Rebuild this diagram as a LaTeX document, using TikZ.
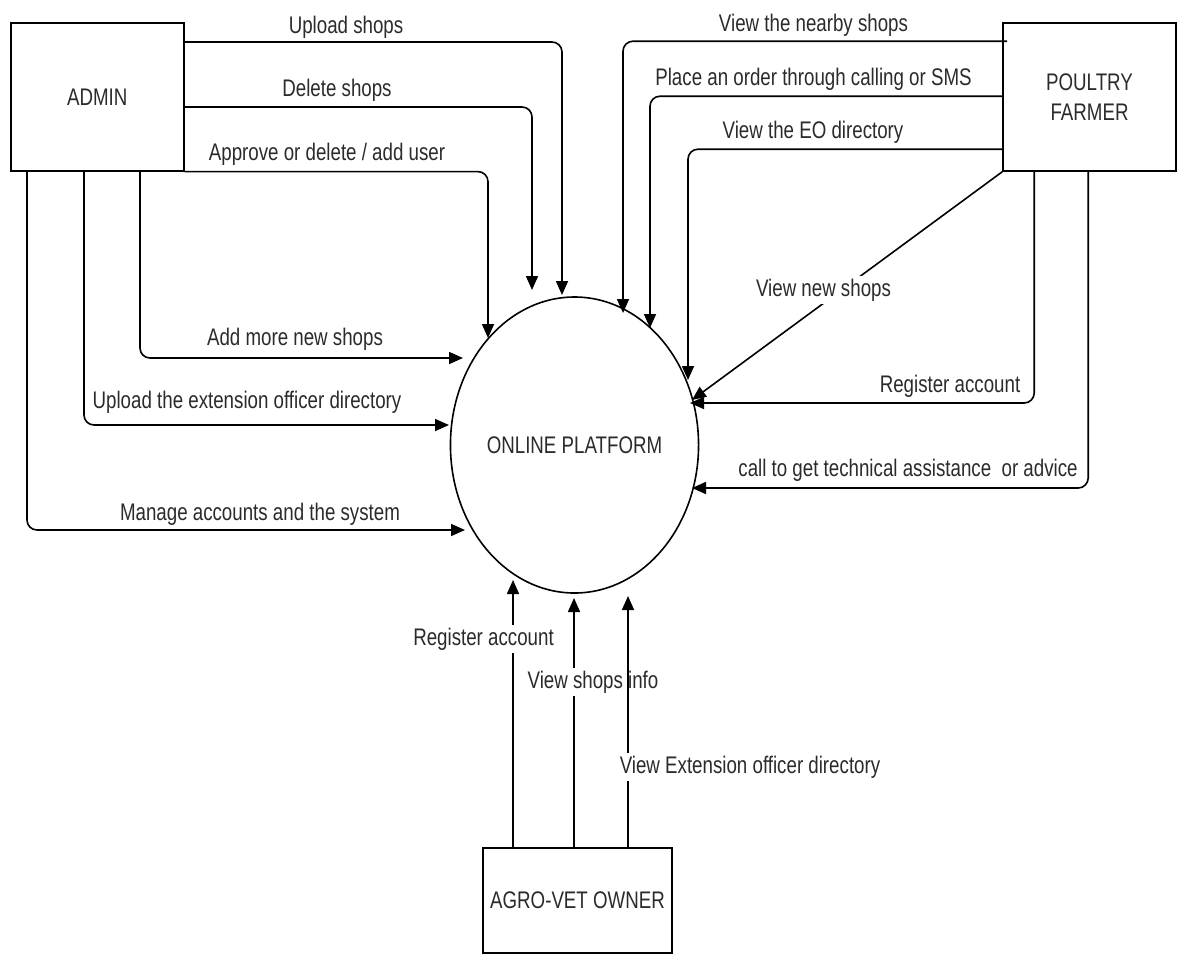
\documentclass[tikz,border=0pt]{standalone}
\usepackage{fontspec}
\setmainfont{Liberation Sans}[FakeStretch=0.78]
\usetikzlibrary{arrows.meta,shapes.geometric}
\definecolor{txt}{HTML}{2B2B2B}
\begin{document}
\begin{tikzpicture}[x=1pt,y=-1pt,
  every node/.style={font=\fontsize{24}{30}\selectfont, text=txt},
  box/.style={draw=black, line width=1.6pt, inner sep=0pt, align=center},
  conn/.style={draw=black, line width=1.6pt, rounded corners=10pt, -{Triangle[length=14pt,width=12pt]}},
  lbl/.style={anchor=base, inner sep=3pt},
  cut/.style={lbl, fill=white}]
\useasboundingbox (0,0) rectangle (1177,954);

% entities
\node[box, minimum width=173pt, minimum height=148pt] (admin) at (97.3,96.8) {ADMIN};
\node[box, minimum width=173pt, minimum height=148pt] (poultry) at (1089.5,97) {POULTRY\\FARMER};
\node[box, minimum width=189pt, minimum height=105pt] (agro) at (577.5,900.5) {AGRO-VET OWNER};
\node[ellipse, draw=black, line width=1.6pt, minimum width=245pt, minimum height=296pt, inner sep=0pt] (op) at (574.5,445) {ONLINE PLATFORM};

% arrow tips
\coordinate (t1) at (562,295);
\coordinate (t2) at (532,290);
\coordinate (t3) at (488,338);
\coordinate (t4) at (463,358);
\coordinate (t5) at (449,425);
\coordinate (t6) at (465,530);
\coordinate (t7) at (623,313);
\coordinate (t8) at (650,328);
\coordinate (t9) at (688,380);
\coordinate (t10) at (692,400);
\coordinate (t11) at (690,403);
\coordinate (t12) at (692,488);
\coordinate (t13) at (513,580);
\coordinate (t14) at (574,598);
\coordinate (t15) at (628,596);

% admin flows
\draw[conn] ([yshift=-20pt]admin.north east) -| (t1);
\draw[conn] ([yshift=-85pt]admin.north east) -| (t2);
\draw[conn] (admin.south east) -| (t3);
\draw[conn] ([xshift=130pt]admin.south west) |- (t4);
\draw[conn] ([xshift=74pt]admin.south west) |- (t5);
\draw[conn] ([xshift=17pt]admin.south west) |- (t6);
\node[lbl] (l1) at (346,33) {Upload shops};
\node[lbl] (l2) at (337,96) {Delete shops};
\node[lbl] (l3) at (327,160) {Approve or delete / add user};
\node[lbl] (l4) at (295,345) {Add more new shops};
\node[lbl] (l5) at (247,408) {Upload the extension officer directory};
\node[lbl] (l6) at (260,520) {Manage accounts and the system};

% poultry farmer flows
\draw[conn] ([xshift=5pt,yshift=-19pt]poultry.north west) -| (t7);
\draw[conn] ([yshift=-74pt]poultry.north west) -| (t8);
\draw[conn] ([yshift=-127pt]poultry.north west) -| (t9);
\draw[conn] (poultry.south west) -- (t10);
\draw[conn] ([xshift=32pt]poultry.south west) |- (t11);
\draw[conn] ([xshift=86pt]poultry.south west) |- (t12);
\node[lbl] (l7) at (813.5,31) {View the nearby shops};
\node[lbl] (l8) at (813.5,85) {Place an order through calling or SMS};
\node[lbl] (l9) at (813,138) {View the EO directory};
\node[cut] (l10) at (823.5,296) {View new shops};
\node[lbl] (l11) at (950,392) {Register account};
\node[lbl] (l12) at (908,476) {call to get technical assistance\ \ or advice};

% agro-vet owner flows
\draw[conn] (agro.north -| t14) -- (t14);
\node[cut] (l14) at (593,688) {View shops info};
\draw[conn] (agro.north -| t13) -- (t13);
\node[cut] (l13) at (483.5,645) {Register account};
\draw[conn] (agro.north -| t15) -- (t15);
\node[cut] (l15) at (750,773) {View Extension officer directory};
\end{tikzpicture}
\end{document}
